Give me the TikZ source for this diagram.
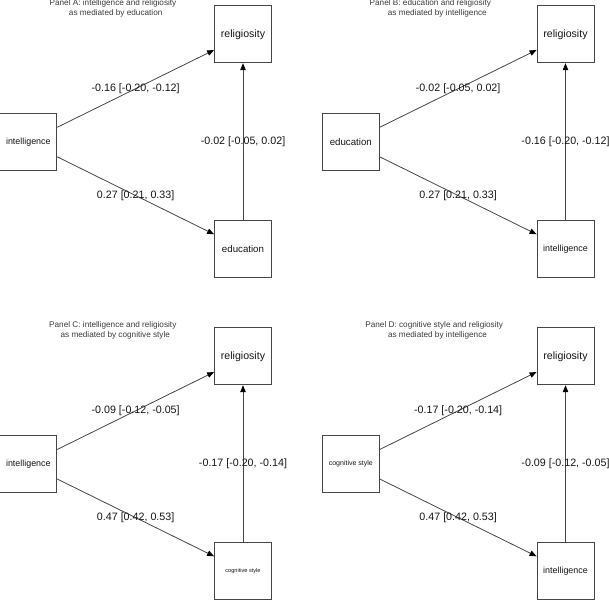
\documentclass[tikz,border=0pt]{standalone}
\usepackage{fontspec}
\setmainfont{Liberation Sans}
\usetikzlibrary{arrows.meta}
\definecolor{linecol}{HTML}{454545}
\definecolor{txtcol}{HTML}{141414}
\definecolor{ttlcol}{HTML}{3A3A3A}
\begin{document}
\begin{tikzpicture}[x=1pt,y=-1pt,
  box/.style={draw=linecol, line width=0.8pt, minimum width=57pt, minimum height=57pt, inner sep=0pt, text=txtcol},
  frel/.style={font=\fontsize{10.6}{12}\selectfont},
  fint/.style={font=\fontsize{8.9}{10}\selectfont},
  fedu/.style={font=\fontsize{9.7}{11}\selectfont},
  fcogC/.style={font=\fontsize{5.6}{7}\selectfont},
  fcogD/.style={font=\fontsize{7}{8}\selectfont},
  conn/.style={draw=linecol, line width=0.8pt, -{Triangle[length=7pt,width=5.5pt,black]}},
  lab/.style={font=\fontsize{10.7}{12}\selectfont, text=txtcol, inner sep=0pt},
  ttl/.style={font=\fontsize{8.2}{9.5}\selectfont, text=ttlcol, inner sep=0pt}
]
\useasboundingbox (0,0) rectangle (609,600);

% ---------- Panel A ----------
\node[ttl] (tA1) at (113,3.2) {Panel A: intelligence and religiosity};
\node[ttl] (tA2) at (115.7,13.5) {as mediated by education};
\node[box,frel] (relA) at (243,34.3) {religiosity};
\node[box,fint] (intA) at (28.3,141.8) {intelligence};
\node[box,fedu] (eduA) at (243,249.3) {education};
\draw[conn] ([yshift=14.5pt]intA.east) -- ([yshift=-15.7pt]relA.west) node[lab,midway] {-0.16 [-0.20, -0.12]};
\draw[conn] ([yshift=-15pt]intA.east) -- ([yshift=15pt]eduA.west) node[lab,midway] {0.27 [0.21, 0.33]};
\draw[conn] (eduA.north) -- (relA.south) node[lab,midway] {-0.02 [-0.05, 0.02]};

% ---------- Panel B ----------
\node[ttl] (tB1) at (430.3,3.2) {Panel B: education and religiosity};
\node[ttl] (tB2) at (437.3,13.5) {as mediated by intelligence};
\node[box,frel] (relB) at (565.5,34.3) {religiosity};
\node[box,fedu] (eduB) at (350.8,141.8) {education};
\node[box,fint] (intB) at (565.5,249.3) {intelligence};
\draw[conn] ([yshift=14.5pt]eduB.east) -- ([yshift=-15.7pt]relB.west) node[lab,midway] {-0.02 [-0.05, 0.02]};
\draw[conn] ([yshift=-15pt]eduB.east) -- ([yshift=15pt]intB.west) node[lab,midway] {0.27 [0.21, 0.33]};
\draw[conn] (intB.north) -- (relB.south) node[lab,midway] {-0.16 [-0.20, -0.12]};

% ---------- Panel C ----------
\node[ttl] (tC1) at (112.8,325) {Panel C: intelligence and religiosity};
\node[ttl] (tC2) at (115.3,335.5) {as mediated by cognitive style};
\node[box,frel] (relC) at (243,356.3) {religiosity};
\node[box,fint] (intC) at (28.3,464) {intelligence};
\node[box,fcogC] (cogC) at (243,571.3) {cognitive style};
\draw[conn] ([yshift=14.5pt]intC.east) -- ([yshift=-15.7pt]relC.west) node[lab,midway] {-0.09 [-0.12, -0.05]};
\draw[conn] ([yshift=-15pt]intC.east) -- ([yshift=15pt]cogC.west) node[lab,midway] {0.47 [0.42, 0.53]};
\draw[conn] (cogC.north) -- (relC.south) node[lab,midway] {-0.17 [-0.20, -0.14]};

% ---------- Panel D ----------
\node[ttl] (tD1) at (434.2,325) {Panel D: cognitive style and religiosity};
\node[ttl] (tD2) at (437.5,335.5) {as mediated by intelligence};
\node[box,frel] (relD) at (565.5,356.3) {religiosity};
\node[box,fcogD] (cogD) at (350.8,464) {cognitive style};
\node[box,fint] (intD) at (565.5,571.3) {intelligence};
\draw[conn] ([yshift=14.5pt]cogD.east) -- ([yshift=-15.7pt]relD.west) node[lab,midway] {-0.17 [-0.20, -0.14]};
\draw[conn] ([yshift=-15pt]cogD.east) -- ([yshift=15pt]intD.west) node[lab,midway] {0.47 [0.42, 0.53]};
\draw[conn] (intD.north) -- (relD.south) node[lab,midway] {-0.09 [-0.12, -0.05]};
\end{tikzpicture}
\end{document}
